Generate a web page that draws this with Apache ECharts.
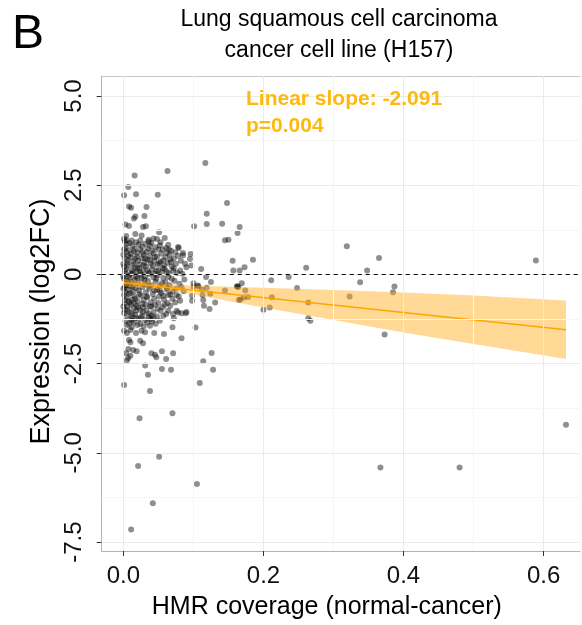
<!DOCTYPE html>
<html>
<head>
<meta charset="utf-8">
<script src="https://cdn.jsdelivr.net/npm/echarts@6/dist/echarts.min.js"></script>
<style>html,body{margin:0;padding:0;background:#fff}#c{width:582px;height:625px}</style>
</head>
<body>
<div id="c"></div>
<script>
// ---------- data ----------
const xTicks = [0, 0.2, 0.4, 0.6];
const xMinor = [0.1, 0.3, 0.5];
const yTicks = [-7.5, -5, -2.5, 0, 2.5, 5];
const yMinor = [-6.25, -3.75, -1.25, 1.25, 3.75];

const outerPoints = [
[0.117,3.12],[0.063,2.90],[0.016,2.77],[0.007,2.45],[0.001,2.22],[0.018,2.25],[0.049,2.23],[0.148,2.00],[0.008,1.90],[0.011,1.87],
[0.033,1.89],[0.119,1.70],[0.015,1.57],[0.017,1.62],[0.030,1.64],[0.003,1.40],[0.008,1.36],[0.119,1.41],[0.141,1.42],[0.028,1.33],
[0.032,1.35],[0.101,1.35],[0.166,1.33],[0.051,1.18],[0.163,1.16],[0.004,1.08],[0.017,1.13],[0.026,1.09],[0.036,0.97],[0.043,1.01],
[0.048,0.99],[0.059,1.02],[0.145,0.96],[0.150,0.97],[0.004,0.96],[0.024,0.95],[0.038,0.80],[0.064,0.83],[0.078,0.77],[0.079,0.74],
[0.085,0.60],[0.085,0.54],[0.096,0.57],[0.095,0.43],[0.156,0.38],[0.185,0.41],[0.090,0.20],[0.097,0.25],[0.081,0.11],[0.072,0.17],
[0.111,0.15],[0.157,0.11],[0.166,0.11],[0.173,0.20],[0.118,-0.07],[0.064,-0.07],[0.125,-0.21],[0.100,-0.25],[0.106,-0.31],[0.087,-0.14],
[0.169,-0.25],[0.163,-0.34],[0.319,0.79],[0.365,0.46],[0.589,0.39],[0.261,0.19],[0.348,0.11],[0.236,-0.07],[0.211,-0.16],[0.338,-0.22],
[0.248,-0.38],[0.387,-0.34],[0.385,-0.50],[0.212,-0.64],[0.323,-0.62],[0.264,-0.79],[0.200,-0.99],[0.209,-0.93],[0.264,-1.23],[0.267,-1.30],
[0.373,-1.68],[0.632,-4.21],[0.367,-5.41],[0.480,-5.41],[0.023,-4.03],[0.070,-3.89],[0.051,-5.11],[0.021,-5.37],[0.105,-5.87],[0.042,-6.41],
[0.011,-7.15],[0.001,-3.10],[0.109,-3.04],[0.038,-3.27],[0.035,-2.81],[0.031,-2.55],[0.055,-2.65],[0.068,-2.67],[0.126,-2.20],[0.114,-2.43],
[0.128,-2.67],[0.040,-2.21],[0.045,-2.25],[0.055,-2.15],[0.047,-2.32],[0.061,-2.37],[0.071,-2.21],[0.007,-2.09],[0.004,-2.21],[0.014,-2.12],
[0.010,-2.28],[0.019,-2.15],[0.005,-2.41],[0.007,-2.34],[0.008,-1.84],[0.010,-1.90],[0.024,-1.86],[0.028,-1.93],[0.001,-1.58],[0.005,-1.64],
[0.010,-1.56],[0.018,-1.64],[0.012,-1.48],[0.026,-1.58],[0.031,-1.62],[0.038,-1.44],[0.044,-1.64],[0.052,-1.30],[0.058,-1.67],[0.070,-1.48],
[0.078,-1.07],[0.071,-1.11],[0.083,-1.79],[0.103,-1.49],[0.089,-1.09],[0.083,-1.09],[0.098,-0.74],[0.115,-0.88],[0.123,-0.97],[0.131,-0.79],
[0.114,-0.72],[0.145,-0.45],[0.164,-0.35],[0.174,-0.45],[0.167,-0.70],[0.172,-0.65],[0.178,-0.63],[0.107,-0.33],[0.119,-0.37],[0.124,-0.54],
[0.113,-0.58],[0.081,-0.74],[0.090,-1.05],[0.072,-1.23],[0.067,-0.88],[0.162,-0.33],[0.165,-0.72],[0.057,-1.16],[0.043,-1.21],[0.061,-1.11],
[0.064,-1.02],[0.076,-1.02],[0.074,-0.79],[0.067,-0.56],[0.062,-0.37],[0.052,-0.46],[0.057,-0.60],[0.086,-0.47],[0.100,-0.35],[0.112,-0.42],
[0.098,-0.60]
];

const corePoints = [
[0.002,0.92],[0.005,0.85],[0.009,0.88],[0.013,0.80],[0.018,0.90],[0.022,0.84],[0.027,0.78],[0.031,0.86],[0.035,0.72],[0.040,0.88],
[0.046,0.76],[0.052,0.82],[0.056,0.70],[0.061,0.74],[0.068,0.66],[0.001,0.70],[0.004,0.62],[0.008,0.68],[0.011,0.58],[0.015,0.65],
[0.020,0.60],[0.024,0.70],[0.029,0.55],[0.033,0.63],[0.038,0.52],[0.043,0.60],[0.048,0.50],[0.054,0.58],[0.060,0.48],[0.066,0.55],
[0.072,0.45],[0.078,0.52],[0.002,0.45],[0.006,0.40],[0.010,0.48],[0.014,0.36],[0.017,0.44],[0.021,0.38],[0.026,0.46],[0.030,0.34],
[0.034,0.42],[0.039,0.30],[0.044,0.38],[0.049,0.28],[0.053,0.36],[0.058,0.25],[0.063,0.32],[0.069,0.22],[0.075,0.30],[0.001,0.22],
[0.004,0.15],[0.007,0.25],[0.012,0.12],[0.016,0.20],[0.019,0.08],[0.023,0.18],[0.028,0.10],[0.032,0.22],[0.036,0.05],[0.041,0.14],
[0.045,0.02],[0.050,0.12],[0.055,0.06],[0.059,0.15],[0.065,0.03],[0.071,0.10],[0.077,0.04],[0.003,0.02],[0.008,-0.04],[0.013,0.05],
[0.018,-0.06],[0.025,0.00],[0.031,-0.05],[0.037,0.01],[0.043,-0.08],[0.049,-0.02],[0.057,-0.10],[0.001,-0.12],[0.005,-0.18],[0.009,-0.10],
[0.012,-0.22],[0.016,-0.15],[0.021,-0.25],[0.026,-0.12],[0.030,-0.28],[0.035,-0.18],[0.040,-0.30],[0.046,-0.20],[0.052,-0.32],[0.060,-0.22],
[0.066,-0.30],[0.073,-0.18],[0.080,-0.26],[0.002,-0.35],[0.006,-0.42],[0.010,-0.33],[0.014,-0.48],[0.018,-0.38],[0.022,-0.45],[0.027,-0.36],
[0.032,-0.50],[0.037,-0.40],[0.042,-0.55],[0.048,-0.44],[0.054,-0.52],[0.062,-0.42],[0.070,-0.48],[0.001,-0.58],[0.004,-0.65],[0.008,-0.55],
[0.012,-0.70],[0.016,-0.62],[0.020,-0.75],[0.025,-0.60],[0.029,-0.72],[0.034,-0.64],[0.039,-0.78],[0.044,-0.68],[0.050,-0.80],[0.058,-0.70],
[0.002,-0.82],[0.006,-0.90],[0.011,-0.85],[0.015,-0.95],[0.019,-0.88],[0.024,-1.00],[0.028,-0.92],[0.033,-1.02],[0.038,-0.90],[0.043,-1.05],
[0.049,-0.96],[0.001,-1.08],[0.005,-1.15],[0.009,-1.05],[0.013,-1.20],[0.017,-1.12],[0.022,-1.25],[0.027,-1.15],[0.031,-1.28],[0.036,-1.18],
[0.041,-1.32],[0.003,-1.30],[0.008,-1.38],[0.015,-1.35],[0.020,-1.42],
[0.003,0.75],[0.007,0.52],[0.012,0.95],[0.016,0.72],[0.019,0.50],[0.023,0.28],[0.027,0.62],[0.031,0.45],[0.036,0.92],[0.041,0.66],
[0.045,0.48],[0.050,0.70],[0.057,0.40],[0.062,0.60],[0.067,0.42],[0.002,0.10],[0.006,0.32],[0.011,0.02],[0.015,0.28],[0.020,0.16],
[0.024,0.05],[0.029,0.26],[0.034,0.12],[0.038,0.40],[0.042,0.24],[0.047,0.10],[0.051,0.32],[0.056,0.18],[0.062,0.08],[0.068,0.35],
[0.000,-0.05],[0.004,-0.30],[0.007,-0.22],[0.010,-0.52],[0.013,-0.35],[0.017,-0.68],[0.020,-0.10],[0.023,-0.55],[0.027,-0.82],[0.030,-0.15],
[0.033,-0.62],[0.036,-0.32],[0.040,-0.90],[0.044,-0.45],[0.047,-0.12],[0.051,-0.62],[0.055,-0.25],[0.059,-0.85],[0.064,-0.58],[0.069,-0.12],
[0.075,-0.40],[0.079,-0.62],[0.002,-0.72],[0.006,-1.00],[0.009,-0.78],[0.012,-1.10],[0.015,-0.80],[0.018,-1.02],[0.021,-0.92],[0.025,-1.20],
[0.028,-1.05],[0.032,-0.85],[0.036,-1.10],[0.040,-1.15],[0.045,-0.85],[0.048,-1.18],[0.053,-1.02],[0.056,-0.92],[0.000,-0.40],[0.000,-0.90],
[0.000,0.30],[0.000,0.55],[0.001,1.00],[0.003,-0.50],[0.007,-0.75],[0.002,-1.00],[0.010,-1.25],[0.004,-0.28],[0.005,-1.42],[0.012,-1.30],
[0.018,-1.22],[0.024,-1.38],[0.029,-1.45],[0.034,-1.35],[0.039,-1.25],[0.046,-1.38],
[0.053,0.90],[0.065,0.70],[0.074,0.62],[0.082,0.38],[0.084,0.02],[0.070,-0.68],[0.063,-0.80],[0.076,-0.58],[0.083,-0.36],[0.088,0.30]
];

// fitted line and its confidence band
const fitX = [0, 0.632];
const fitY = [-0.23, -1.55];
const bandX     = [0,     0.05,  0.1,   0.2,   0.3,   0.4,   0.5,   0.632];
const bandUpper = [-0.13, -0.25, -0.32, -0.37, -0.44, -0.51, -0.59, -0.73];
const bandLower = [-0.33, -0.41, -0.56, -0.93, -1.28, -1.63, -1.95, -2.37];

const slopeText = 'Linear slope: -2.091';
const pText = 'p=0.004';
const titleText = 'Lung squamous cell carcinoma\ncancer cell line (H157)';
const xName = 'HMR coverage (normal-cancer)';
const yName = 'Expression (log2FC)';

// ---------- chart ----------
const FONT = '"Liberation Sans", Arial, sans-serif';
const X_MIN = -0.031, X_MAX = 0.652, Y_MIN = -7.75, Y_MAX = 5.56;
const chart = echarts.init(document.getElementById('c'), null, {renderer: 'canvas'});

const gridLines = [];
xTicks.forEach(v => gridLines.push({xAxis: v, lineStyle: {color: '#ebebeb', width: 1, type: 'solid'}}));
xMinor.forEach(v => gridLines.push({xAxis: v, lineStyle: {color: '#f6f6f6', width: 1, type: 'solid'}}));
yTicks.forEach(v => gridLines.push({yAxis: v, lineStyle: {color: '#ebebeb', width: 1, type: 'solid'}}));
yMinor.forEach(v => gridLines.push({yAxis: v, lineStyle: {color: '#f6f6f6', width: 1, type: 'solid'}}));

const option = {
  animation: false,
  backgroundColor: '#fff',
  grid: {left: 101.7, right: 2, top: 76, bottom: 72, containLabel: false},
  graphic: [
    {type: 'text', x: 12, y: 11, style: {text: 'B', font: '48px ' + FONT, fill: '#000'}},
    {type: 'text', x: 339, y: 4, style: {text: titleText, font: '23px ' + FONT, fill: '#000', align: 'center', lineHeight: 31}},
    {type: 'text', x: 246, y: 86, z: 100, style: {text: slopeText + '\n' + pText, font: 'bold 21px ' + FONT, fill: '#FDB90D', lineHeight: 27}}
  ],
  xAxis: [{
    type: 'value', min: X_MIN, max: X_MAX, position: 'bottom',
    name: xName, nameLocation: 'middle', nameGap: 44,
    nameTextStyle: {fontFamily: FONT, fontSize: 25, color: '#000', padding: [0, 28, 0, 0]},
    axisLine: {show: true, onZero: false, lineStyle: {color: '#b3b3b3', width: 1}},
    axisTick: {show: true, length: 5, customValues: xTicks, lineStyle: {color: '#333'}},
    axisLabel: {customValues: xTicks, fontFamily: FONT, fontSize: 24, color: '#111', margin: 13,
      formatter: v => v.toFixed(1)},
    splitLine: {show: false}
  }, {
    type: 'value', min: X_MIN, max: X_MAX, position: 'top',
    axisLine: {show: true, onZero: false, lineStyle: {color: '#c8c8c8', width: 1}},
    axisTick: {show: false}, axisLabel: {show: false}, splitLine: {show: false}
  }],
  yAxis: {
    type: 'value', min: Y_MIN, max: Y_MAX,
    name: yName, nameLocation: 'middle', nameGap: 42,
    nameTextStyle: {fontFamily: FONT, fontSize: 27, color: '#000', padding: [0, 16, 0, 0]},
    axisLine: {show: true, onZero: false, lineStyle: {color: '#b3b3b3', width: 1}},
    axisTick: {show: true, length: 5, customValues: yTicks, lineStyle: {color: '#333'}},
    axisLabel: {customValues: yTicks, rotate: 90, fontFamily: FONT, fontSize: 24, color: '#111', margin: 15,
      formatter: v => (v === 0 ? '0' : v.toFixed(1))},
    splitLine: {show: false}
  },
  series: [
    { // background grid
      type: 'line', data: [], z: 0, silent: true,
      markLine: {silent: true, symbol: ['none', 'none'], label: {show: false}, animation: false, data: gridLines}
    },
    { // white label background behind the annotation
      type: 'line', data: [], z: 1, silent: true,
      markArea: {silent: true, itemStyle: {color: '#ffffff'}, data: [[{coord: [0.148, 3.51]}, {coord: [0.493, Y_MAX - 0.06]}]]}
    },
    {
      type: 'scatter', z: 2, silent: true,
      symbolSize: 6,
      itemStyle: {color: 'rgba(0,0,0,0.55)', borderWidth: 0, borderColor: 'rgba(0,0,0,0)'},
      data: outerPoints.concat(corePoints)
    },
    {
      type: 'custom', z: 3, silent: true, clip: true,
      data: [[0, 0]],
      renderItem: function (params, api) {
        const pts = [];
        for (let i = 0; i < bandX.length; i++) pts.push(api.coord([bandX[i], bandUpper[i]]));
        for (let i = bandX.length - 1; i >= 0; i--) pts.push(api.coord([bandX[i], bandLower[i]]));
        return {type: 'polygon', shape: {points: pts}, style: {fill: 'rgba(255,170,20,0.45)', stroke: null}};
      }
    },
    {
      type: 'line', z: 4, silent: true, showSymbol: false,
      lineStyle: {color: '#FFA500', width: 1.5},
      data: fitX.map((x, i) => [x, fitY[i]])
    },
    { // dashed zero line
      type: 'line', data: [], z: 5, silent: true,
      markLine: {silent: true, symbol: ['none', 'none'], label: {show: false}, animation: false,
        data: [{yAxis: 0, lineStyle: {color: '#000', width: 1, type: [4, 4]}}]}
    }
  ]
};
chart.setOption(option);
</script>
</body>
</html>
